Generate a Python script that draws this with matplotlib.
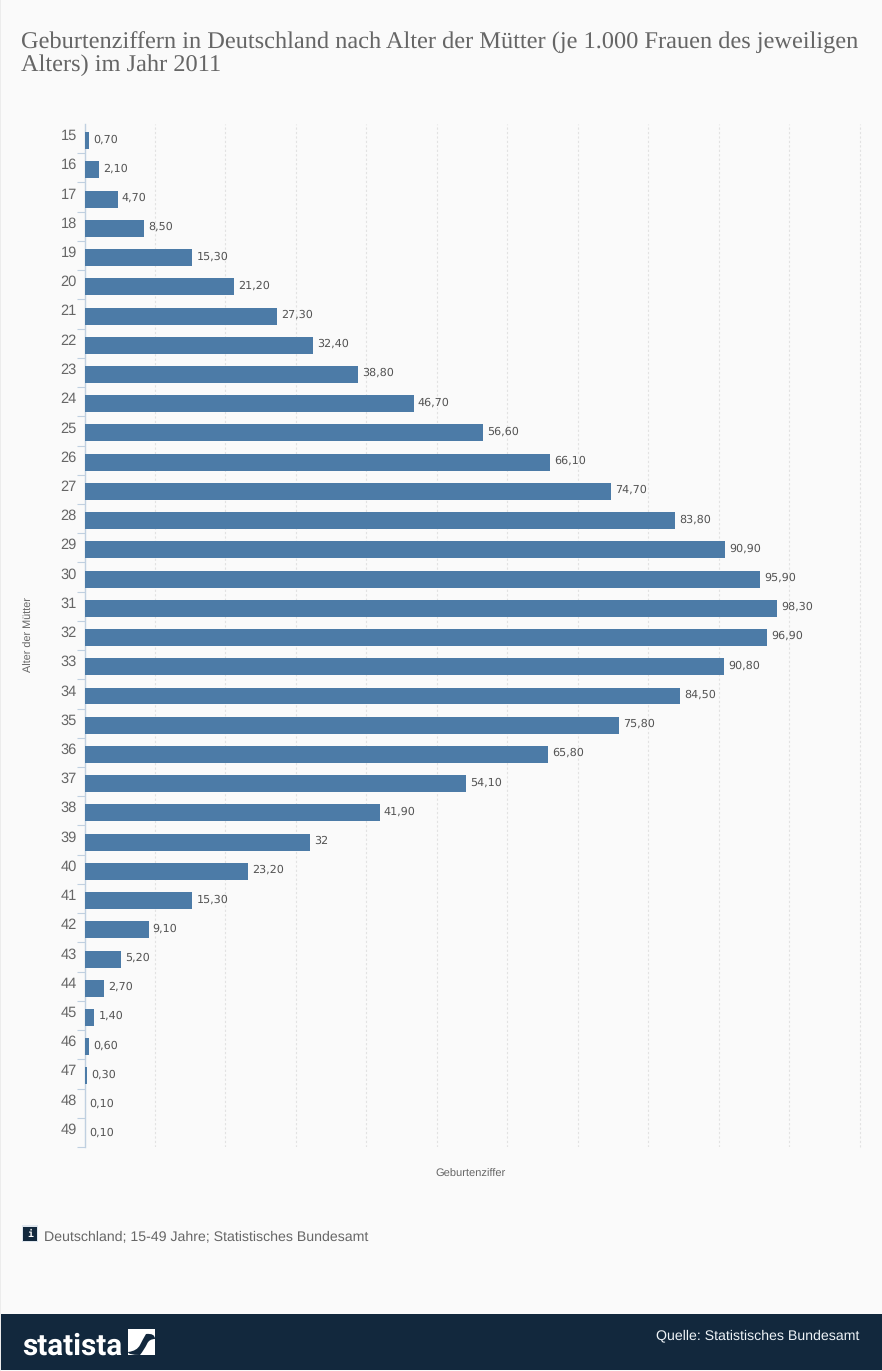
import numpy as np
import matplotlib
matplotlib.use('Agg')
import matplotlib.pyplot as plt
from matplotlib.patches import Rectangle, PathPatch
from matplotlib.path import Path
from matplotlib.transforms import ScaledTranslation

plt.rcParams['text.hinting'] = 'no_hinting'
plt.rcParams['text.hinting_factor'] = 8

# data
ages = [str(a) for a in range(15, 50)]
values = [0.7, 2.1, 4.7, 8.5, 15.3, 21.2, 27.3, 32.4, 38.8, 46.7, 56.6, 66.1, 74.7, 83.8,
          90.9, 95.9, 98.3, 96.9, 90.8, 84.5, 75.8, 65.8, 54.1, 41.9, 32, 23.2, 15.3, 9.1,
          5.2, 2.7, 1.4, 0.6, 0.3, 0.1, 0.1]
value_labels = ['0,70', '2,10', '4,70', '8,50', '15,30', '21,20', '27,30', '32,40', '38,80',
                '46,70', '56,60', '66,10', '74,70', '83,80', '90,90', '95,90', '98,30', '96,90',
                '90,80', '84,50', '75,80', '65,80', '54,10', '41,90', '32', '23,20', '15,30',
                '9,10', '5,20', '2,70', '1,40', '0,60', '0,30', '0,10', '0,10']
grid_ticks = list(range(10, 120, 10))

title = 'Geburtenziffern in Deutschland nach Alter der Mütter (je 1.000 Frauen des jeweiligen\nAlters) im Jahr 2011'

W, H = 882, 1371
GREY = '#666666'
NAVY = '#12283d'
BLUE = '#4c7ba7'

fig = plt.figure(figsize=(W / 100, H / 100), dpi=100, facecolor='#fafafa')

# page decoration in pixel coordinates
bg = fig.add_axes([0, 0, 1, 1])
bg.set_xlim(0, W)
bg.set_ylim(H, 0)
bg.axis('off')
bg.add_patch(Rectangle((0, 0), 1, H, color='#ececec', lw=0))
bg.add_patch(Rectangle((1, 1314), W - 1, 56, color=NAVY, lw=0))
bg.add_patch(Rectangle((22, 1225), 16, 17, color='#dfe6ee', lw=0))
bg.add_patch(Rectangle((23, 1227), 14, 14, color=NAVY, lw=0))
bg.text(30, 1234, 'i', color='white', fontsize=7, family='DejaVu Sans Mono', fontweight='bold',
        ha='center', va='center')

# logo mark
bg.add_patch(Rectangle((128, 1329), 27, 26, color='white', lw=0))
swoosh = Path([(128, 1352), (137, 1351), (140, 1345), (143, 1339), (146, 1334), (155, 1333),
               (155, 1339), (149, 1339), (147, 1344), (144, 1350), (140, 1355), (128, 1355), (128, 1352)],
              [Path.MOVETO, Path.CURVE3, Path.CURVE3, Path.CURVE3, Path.CURVE3, Path.CURVE3,
               Path.LINETO, Path.CURVE3, Path.CURVE3, Path.CURVE3, Path.CURVE3, Path.CURVE3, Path.CLOSEPOLY])
bg.add_patch(PathPatch(swoosh, facecolor=NAVY, lw=0))
bg.text(22, 1355, 'statista', color='white', fontsize=21.3, fontweight='bold',
        family='Roboto', ha='left', va='baseline')

bg.text(21, 42.5, title.split('\n')[0], color=GREY, fontsize=17.55, family='Liberation Serif', va='center')
bg.text(21, 65.5, title.split('\n')[1], color=GREY, fontsize=17.55, family='Liberation Serif', va='center')
bg.text(44, 1236.5, 'Deutschland; 15-49 Jahre; Statistisches Bundesamt', color=GREY, fontsize=10.17,
        family='Liberation Sans', va='center')
bg.text(859, 1335.5, 'Quelle: Statistisches Bundesamt', color='#eef3f7', fontsize=10.15,
        family='Liberation Sans', ha='right', va='center')
bg.text(471, 1174.5, 'Geburtenziffer', color=GREY, fontsize=8, family='Liberation Sans',
        ha='center', va='center')
bg.text(29, 635, 'Alter der Mütter', color=GREY, fontsize=7.8, family='Liberation Sans',
        rotation=90, ha='center', va='center')

# chart
ax = fig.add_axes([84.5 / W, 1 - 1147 / H, 775 / W, 1023 / H])
ax.patch.set_alpha(0)
y = np.arange(len(ages))
ax.barh(y, values, height=0.58, color=BLUE, zorder=3)
ax.set_xlim(0, 110)
ax.set_ylim(34.43, -0.57)

for s in ['top', 'right', 'bottom']:
    ax.spines[s].set_visible(False)
ax.spines['left'].set_color('#c0d0e0')
ax.spines['left'].set_linewidth(1)

ax.set_xticks(grid_ticks)
ax.tick_params(axis='x', length=0, labelbottom=False)
ax.grid(axis='x', color='#e2e2e2', linestyle=(0, (2, 2)), linewidth=0.8, zorder=0)
ax.xaxis.get_gridlines()[-1].set_clip_on(False)

ax.set_yticks(y + 0.43, minor=True)
ax.tick_params(axis='y', which='minor', length=6, width=0.8, color='#c0d0e0')
ax.set_yticks(y)
ax.set_yticklabels(ages, fontsize=10.5, color=GREY, family='Liberation Sans')
ax.tick_params(axis='y', which='major', length=0, pad=5.5)
shift = ScaledTranslation(0, 6 / 100, fig.dpi_scale_trans)
for lab in ax.get_yticklabels():
    lab.set_transform(lab.get_transform() + shift)

for i, (v, lab) in enumerate(zip(values, value_labels)):
    ax.annotate(lab, (v, i), xytext=(3, 1.0), textcoords='offset points', fontsize=8,
                color='#555555', ha='left', va='center', family='DejaVu Sans')

fig.savefig('out.png', dpi=100, facecolor=fig.get_facecolor())
